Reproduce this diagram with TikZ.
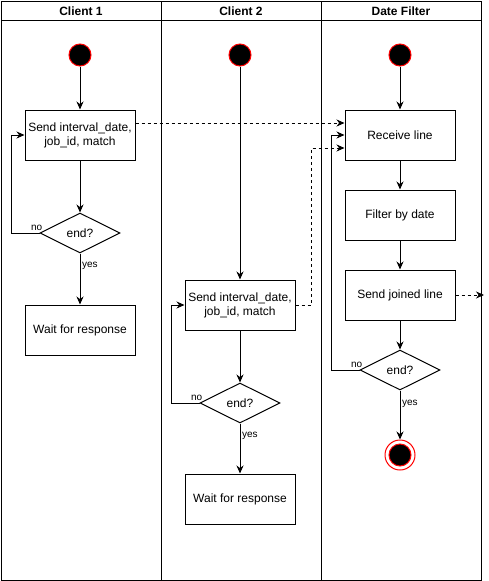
\documentclass[tikz,border=0pt]{standalone}
\usepackage{fontspec}
\setmainfont{Liberation Sans}
\usetikzlibrary{shapes.geometric,arrows.meta}

\tikzset{
  box/.style={draw, line width=1pt, minimum width=110pt, minimum height=50pt, align=center, inner sep=2pt, font=\fontsize{12}{14}\selectfont},
  decision/.style={draw, line width=1pt, diamond, minimum width=80pt, minimum height=40pt, inner sep=0pt, font=\fontsize{12}{14}\selectfont},
  startdot/.style={circle, draw=red, fill=black, line width=1pt, minimum size=22pt, inner sep=0pt},
  enddot/.style={circle, draw=red, fill=white, line width=1pt, minimum size=30pt, inner sep=0pt},
  lanehead/.style={font=\bfseries\fontsize{12}{14}\selectfont},
  lbl/.style={font=\fontsize{10}{12}\selectfont, inner sep=1.5pt},
  arr/.style={line width=1pt, -{Stealth[length=8pt,width=7pt]}},
  darr/.style={arr, dashed, dash pattern=on 3pt off 3pt},
}

\begin{document}
\begin{tikzpicture}[x=1pt, y=-1pt]
        \useasboundingbox (0,0) rectangle (489,581);

        % swimlanes
        \draw[line width=1pt] (1,1) rectangle (481,580);
        \draw[line width=1pt] (1,20) -- (481,20);
        \draw[line width=1pt] (161,1) -- (161,580);
        \draw[line width=1pt] (321,1) -- (321,580);
        \node[lanehead] (h1) at (81,11) {Client 1};
        \node[lanehead] (h2) at (241,11) {Client 2};
        \node[lanehead] (h3) at (401,11) {Date Filter};

        % Client 1
        \node[startdot] (s1) at (80,55) {};
        \node[box] (send1) at (80,135) {Send interval\_date,\\job\_id, match};
        \node[decision] (end1) at (80,233) {end?};
        \node[box] (wait1) at (80,330) {Wait for response};
        \coordinate (loop1) at (11,233);
        \draw[arr] (s1) -- (send1);
        \draw[arr] (send1) -- (end1);
        \draw[arr] (end1) -- node[lbl, right, pos=.25] {yes} (wait1);
        \draw[arr] (end1.west) -- node[lbl, above, pos=.1] {no} (loop1) |- (send1.west);

        % Client 2
        \node[startdot] (s2) at (240,55) {};
        \node[box] (send2) at (240,305) {Send interval\_date,\\job\_id, match};
        \node[decision] (end2) at (240,403) {end?};
        \node[box] (wait2) at (240,499) {Wait for response};
        \coordinate (loop2) at (171,403);
        \draw[arr] (s2) -- (send2);
        \draw[arr] (send2) -- (end2);
        \draw[arr] (end2) -- node[lbl, right, pos=.25] {yes} (wait2);
        \draw[arr] (end2.west) -- node[lbl, above, pos=.1] {no} (loop2) |- (send2.west);

        % Date Filter
        \node[startdot] (s3) at (400,55) {};
        \node[box] (recv) at (400,135) {Receive line};
        \node[box] (filt) at (400,215) {Filter by date};
        \node[box] (sendj) at (400,295) {Send joined line};
        \node[decision] (end3) at (400,370) {end?};
        \node[enddot] (fin) at (400,455) {};
        \node[startdot, minimum size=22pt] (finin) at (400,455) {};
        \coordinate (loop3) at (331,370);
        \coordinate (out) at (484,295);
        \coordinate (c2) at (311,148);
        \draw[arr] (s3) -- (recv);
        \draw[arr] (recv) -- (filt);
        \draw[arr] (filt) -- (sendj);
        \draw[arr] (sendj) -- (end3);
        \draw[arr] (end3) -- node[lbl, right, pos=.28] {yes} (fin);
        \draw[arr] (end3.west) -- node[lbl, above, pos=.1] {no} (loop3) |- (recv.west);
        \draw[darr] (sendj.east) -- (out);

        % messages between lanes
        \draw[darr] ([yshift=12pt]send1.east) -- ([yshift=12pt]recv.west);
        \draw[darr] (send2.east) -| (c2) -- ([yshift=-13pt]recv.west);
      \end{tikzpicture}
\end{document}
